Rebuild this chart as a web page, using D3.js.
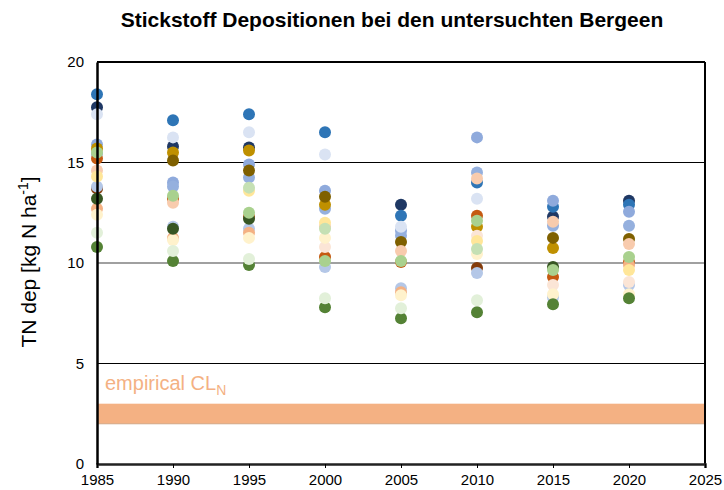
<!DOCTYPE html>
<html>
<head>
<meta charset="utf-8">
<script src="https://cdn.jsdelivr.net/npm/d3@7"></script>
<style>
  body { margin: 0; background: #fff; }
  svg { font-family: "Liberation Sans", Arial, sans-serif; }
</style>
</head>
<body>
<div id="chart"></div>
<script>
var years = [1985, 1990, 1995, 2000, 2005, 2010, 2015, 2020]
var yTicks = [0, 5, 10, 15, 20]
var xTicks = [1985, 1990, 1995, 2000, 2005, 2010, 2015, 2020, 2025]
var clRange = [2, 3]

// one list per lake, drawn in this order (later ones on top)
var seriesNames = ['brown', 'navy', 'blue', 'lightBlue', 'lightBlue2', 'steel', 'veryLightBlue',
  'gold', 'olive', 'orangeDark', 'peach', 'lightPeach', 'veryLightOrange',
  'yellow', 'lightYellow', 'darkGreen', 'green', 'lightGreen', 'paleGreen', 'veryLightGreen']
var seriesColors = ['#843c0c', '#1f3864', '#2e75b6', '#8faadc', '#95b0de', '#b4c7e7', '#dae3f3',
  '#bf9000', '#7f6000', '#c55a11', '#f4b183', '#f8cbad', '#fbe5d6',
  '#ffe699', '#fff2cc', '#375623', '#548235', '#a9d18e', '#c5e0b4', '#e2f0d9']
var seriesValues = [
  [13.7, null, null, null, null, 9.75, null, null],
  [17.75, 15.8, 15.75, null, 12.9, null, 12.3, 13.1],
  [18.4, 17.1, 17.4, 16.5, 12.35, 14.0, 12.8, 12.9],
  [15.9, 14.0, 14.9, 13.6, 11.6, 16.25, 13.1, 12.55],
  [15.45, 13.8, 14.25, 12.7, 11.35, 14.5, 11.85, 11.85],
  [13.8, 11.8, 11.7, 9.8, 8.75, 9.5, 8.3, 8.9],
  [17.4, 16.25, 16.5, 15.4, 11.8, 13.2, null, null],
  [15.7, 15.5, 15.6, 12.9, null, 11.8, 10.75, null],
  [null, 15.1, 14.6, 13.3, 11.05, null, 11.25, 11.2],
  [15.2, 13.2, 12.3, 10.3, 10.05, 12.35, 9.3, 10.05],
  [12.7, 11.25, 11.5, null, 8.55, null, null, 9.9],
  [14.6, 13.0, null, 11.8, 10.6, 14.2, 12.05, 10.95],
  [null, null, null, 10.8, null, 11.35, 8.9, 9.05],
  [14.3, null, 13.6, 12.0, null, 11.1, null, 9.65],
  [12.4, 11.15, 11.25, 11.25, 8.4, 10.45, 8.45, 8.45],
  [13.2, 11.7, 12.2, null, null, null, 9.8, null],
  [10.8, 10.1, 9.9, 7.8, 7.25, 7.55, 7.95, 8.25],
  [15.5, 13.35, 12.5, 10.1, 10.1, 12.1, 9.65, 10.3],
  [null, null, 13.75, 11.7, null, 10.7, null, null],
  [11.5, 10.6, 10.2, 8.25, 7.75, 8.15, null, null]
]

var width = 724, height = 490
var margin = {top: 62, right: 19, bottom: 26, left: 97}

var svg = d3.select('#chart').append('svg')
  .attr('width', width)
  .attr('height', height)

var x = d3.scaleLinear().domain([1985, 2025]).range([margin.left, width - margin.right])
var y = d3.scaleLinear().domain([0, 20]).range([height - margin.bottom, margin.top])

// title
svg.append('text')
  .attr('x', 392)
  .attr('y', 27)
  .attr('text-anchor', 'middle')
  .style('font-size', '21px')
  .style('font-weight', 'bold')
  .text('Stickstoff Depositionen bei den untersuchten Bergeen')

// empirical critical load band
svg.append('rect')
  .attr('x', x(1985))
  .attr('y', y(clRange[1]))
  .attr('width', x(2025) - x(1985))
  .attr('height', y(clRange[0]) - y(clRange[1]))
  .attr('fill', '#f4b183')
svg.append('line')
  .attr('x1', x(1985)).attr('x2', x(2025))
  .attr('y1', y(clRange[0])).attr('y2', y(clRange[0]))
  .attr('stroke', '#c9a07e').attr('stroke-width', 0.8)

var cl = svg.append('text')
  .attr('x', x(1985) + 8)
  .attr('y', y(3.7))
  .attr('fill', '#f4b183')
  .style('font-size', '20px')
cl.append('tspan').text('empirical CL')
cl.append('tspan').attr('dy', 5).style('font-size', '14px').text('N')

// gridlines
svg.selectAll('.grid')
  .data([5, 10, 15])
  .enter().append('line')
  .attr('class', 'grid')
  .attr('x1', x(1985)).attr('x2', x(2025))
  .attr('y1', function(d) { return y(d) })
  .attr('y2', function(d) { return y(d) })
  .attr('stroke', function(d) { return d === 10 ? '#808080' : '#000' })
  .attr('stroke-width', function(d) { return d === 10 ? 1.6 : 1 })

// plot frame
svg.append('line')
  .attr('x1', x(1985)).attr('x2', x(2025))
  .attr('y1', y(20)).attr('y2', y(20))
  .attr('stroke', '#000').attr('stroke-width', 2)
svg.append('line')
  .attr('x1', x(2025)).attr('x2', x(2025))
  .attr('y1', y(20)).attr('y2', y(0))
  .attr('stroke', '#000').attr('stroke-width', 2)

// points
var series = seriesNames.map(function(name, i) {
  return {
    name: name,
    color: seriesColors[i],
    points: years.map(function(yr, j) { return {year: yr, value: seriesValues[i][j]} })
      .filter(function(p) { return p.value !== null })
  }
})

svg.selectAll('.series')
  .data(series)
  .enter().append('g')
  .attr('class', 'series')
  .attr('fill', function(d) { return d.color })
  .selectAll('circle')
  .data(function(d) { return d.points })
  .enter().append('circle')
  .attr('cx', function(d) { return x(d.year) })
  .attr('cy', function(d) { return y(d.value) })
  .attr('r', 6)

// axes
var xAxis = svg.append('g')
  .attr('transform', 'translate(0,' + y(0) + ')')
  .call(d3.axisBottom(x).tickValues(xTicks).tickFormat(d3.format('d')).tickSize(4).tickPadding(6))
xAxis.select('.domain').attr('stroke', '#222').attr('stroke-width', 2.5)
xAxis.selectAll('.tick line').attr('stroke', '#000')
xAxis.selectAll('text').style('font-size', '15px').attr('fill', '#000')

var yAxis = svg.append('g')
  .attr('transform', 'translate(' + x(1985) + ',0)')
  .call(d3.axisLeft(y).tickValues(yTicks).tickSize(0).tickPadding(13))
yAxis.select('.domain').attr('stroke', '#000').attr('stroke-width', 2.5)
yAxis.selectAll('text').style('font-size', '15px').attr('fill', '#000')

// y label
var yl = svg.append('text')
  .attr('transform', 'translate(36,' + (y(10) - 1) + ') rotate(-90)')
  .attr('text-anchor', 'middle')
  .style('font-size', '21px')
yl.append('tspan').text('TN dep [kg N ha')
yl.append('tspan').attr('dy', -8).style('font-size', '14px').text('-1')
yl.append('tspan').attr('dy', 8).text(']')
</script>
</body>
</html>
